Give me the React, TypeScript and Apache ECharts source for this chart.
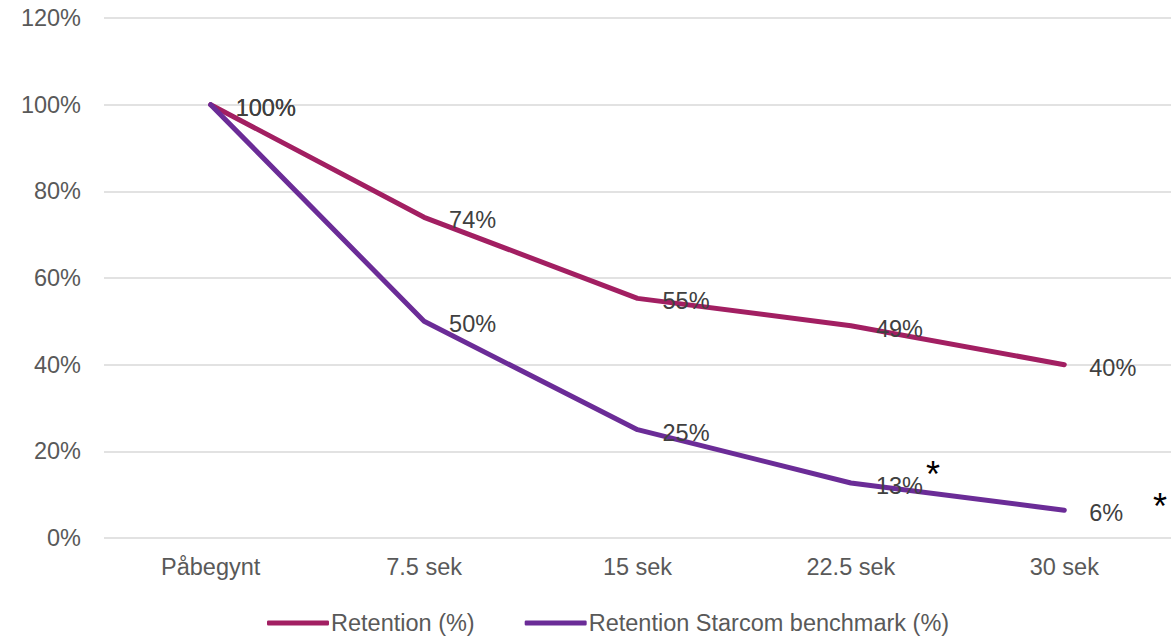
import React, { useEffect, useRef } from "react";
import * as echarts from "echarts";

const categories = ["Påbegynt", "7.5 sek", "15 sek", "22.5 sek", "30 sek"];
const retention = [100, 74, 55.3, 49, 40];
const benchmark = [100, 50, 25, 12.7, 6.4];
const seriesNames = ["Retention (%)", "Retention Starcom benchmark (%)"];
const colors = ["#A21F62", "#6B2C97"];
const yTicks = { min: 0, max: 120, interval: 20 };

const FONT = "Liberation Sans, Arial, sans-serif";
const FS = 23.5;

export default function App() {
  const ref = useRef<HTMLDivElement>(null);
  useEffect(() => {
    if (!ref.current) return;
    const chart = echarts.init(ref.current, null, { renderer: "svg" });
    const mkSeries = (name: string, data: number[], color: string) => ({
      name,
      type: "line",
      data,
      symbol: "circle",
      symbolSize: 2,
      showSymbol: true,
      itemStyle: { color: "rgba(0,0,0,0)", borderWidth: 0 },
      lineStyle: { color, width: 5, cap: "round", join: "round" },
      label: {
        show: true,
        position: "right",
        distance: 24,
        offset: [0, 3],
        color: "#404040",
        fontSize: FS,
        fontFamily: FONT,
        formatter: (p: any) => Math.round(p.value) + "%",
      },
      emphasis: { disabled: true },
    });
    chart.setOption({
      animation: false,
      textStyle: { fontFamily: FONT },
      grid: { left: 104, right: -4, top: 18, bottom: 100 },
      xAxis: {
        type: "category",
        data: categories,
        boundaryGap: true,
        axisLine: { show: false },
        axisTick: { show: false },
        axisLabel: { color: "#595959", fontSize: FS, fontFamily: FONT, margin: 17 },
      },
      yAxis: {
        type: "value",
        min: yTicks.min,
        max: yTicks.max,
        interval: yTicks.interval,
        axisLine: { show: false },
        axisTick: { show: false },
        splitLine: { lineStyle: { color: "#D9D9D9", width: 1.5 } },
        axisLabel: {
          color: "#595959",
          fontSize: FS,
          fontFamily: FONT,
          margin: 23,
          formatter: (v: number) => v + "%",
        },
      },
      legend: {
        left: 262,
        top: 606,
        icon: "roundRect",
        itemWidth: 62,
        itemHeight: 5,
        itemGap: 50,
        textStyle: { color: "#595959", fontSize: FS, fontFamily: FONT, padding: [0, 0, 0, -3] },
        data: seriesNames.map((n, i) => ({ name: n, itemStyle: { color: colors[i], opacity: 1 } })),
      },
      series: [
        mkSeries(seriesNames[0], retention, colors[0]),
        mkSeries(seriesNames[1], benchmark, colors[1]),
      ],
      graphic: [
        {
          type: "text",
          x: 933,
          y: 474,
          style: { text: "*", fontSize: 36, fontFamily: FONT, fill: "#000", align: "center", verticalAlign: "middle" },
        },
        {
          type: "text",
          x: 1160,
          y: 506,
          style: { text: "*", fontSize: 36, fontFamily: FONT, fill: "#000", align: "center", verticalAlign: "middle" },
        },
      ],
    });
    return () => chart.dispose();
  }, []);
  return (
    <div
      ref={ref}
      style={{ position: "fixed", left: 0, top: 0, width: 1171, height: 638, background: "#fff" }}
    />
  );
}
